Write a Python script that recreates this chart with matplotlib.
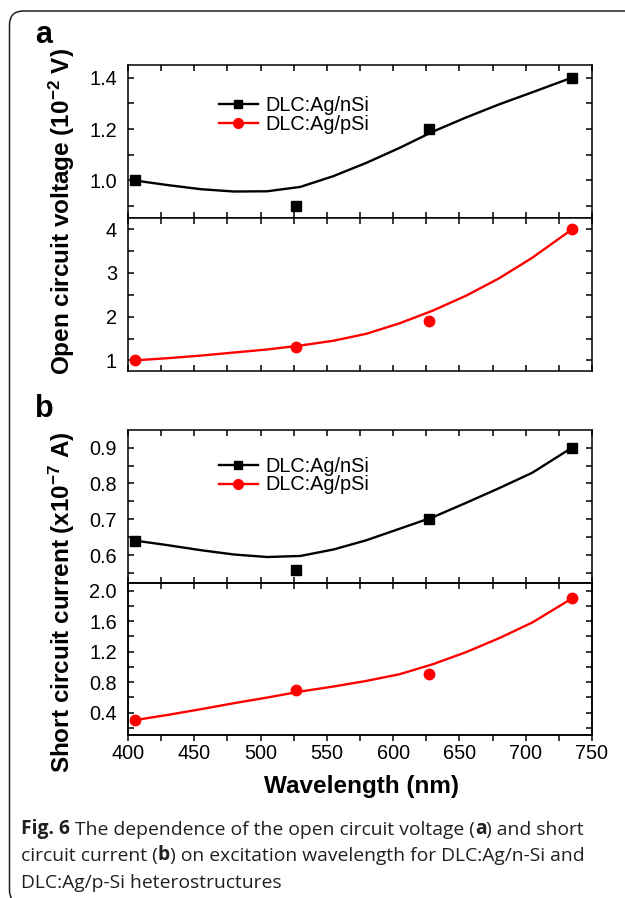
#Recreate Fig. 6: open circuit voltage and short circuit current vs wavelength
import matplotlib
matplotlib.use('Agg')
import matplotlib.pyplot as plt
from matplotlib.lines import Line2D
from matplotlib.patches import FancyBboxPatch
from matplotlib.transforms import IdentityTransform
from matplotlib.ticker import MultipleLocator

plt.rcParams['font.family'] = 'Liberation Sans'
plt.rcParams['mathtext.default'] = 'regular'

#Measured points
wavelength = [405, 527, 627, 735]
voc_nsi = [1.0, 0.9, 1.2, 1.4]
voc_psi = [1.0, 1.3, 1.9, 4.0]
isc_nsi = [0.64, 0.56, 0.70, 0.90]
isc_psi = [0.3, 0.7, 0.9, 1.9]

#Smooth trend lines
wl_fit = [405, 430, 455, 480, 505, 530, 555, 580, 605, 630, 655, 680, 705, 735]
voc_nsi_fit = [1.0, 0.982, 0.966, 0.957, 0.958, 0.975, 1.017, 1.069, 1.127, 1.19, 1.245, 1.296, 1.343, 1.4]
voc_psi_fit = [1.0, 1.05, 1.11, 1.18, 1.25, 1.34, 1.45, 1.61, 1.85, 2.14, 2.48, 2.88, 3.35, 4.0]
isc_nsi_fit = [0.641, 0.628, 0.614, 0.602, 0.595, 0.598, 0.616, 0.642, 0.674, 0.706, 0.746, 0.787, 0.830, 0.9]
isc_psi_fit = [0.3, 0.369, 0.444, 0.523, 0.597, 0.676, 0.742, 0.816, 0.904, 1.035, 1.193, 1.377, 1.583, 1.9]

series_labels = ['DLC:Ag/nSi', 'DLC:Ag/pSi']
x_ticks = [400, 450, 500, 550, 600, 650, 700, 750]

W, H = 625, 898
fig = plt.figure(figsize=(W / 100, H / 100), dpi=100)

def fx(x):
    return x / W

def fy(y):
    return 1 - y / H

def add_axes(top, bottom):
    return fig.add_axes([fx(128), fy(bottom), fx(592) - fx(128), fy(top) - fy(bottom)])

#Four stacked axes (two per panel)
ax_a1 = add_axes(65, 217.5)
ax_a2 = add_axes(217.5, 371)
ax_b1 = add_axes(430, 582.5)
ax_b2 = add_axes(582.5, 735)

black = '#000000'
red = '#ff0000'

panels = [
    (ax_a1, voc_nsi, voc_nsi_fit, black, 's', (0.856, 1.449), 0.2, 0.1),
    (ax_a2, voc_psi, voc_psi_fit, red, 'o', (0.757, 4.27), 1, 0.5),
    (ax_b1, isc_nsi, isc_nsi_fit, black, 's', (0.524, 0.949), 0.1, 0.05),
    (ax_b2, isc_psi, isc_psi_fit, red, 'o', (0.105, 2.108), 0.4, 0.2),
]

for ax, pts, fit, col, mk, ylim, major, minor in panels:
    ax.plot(wl_fit, fit, color=col, lw=1.7, zorder=2, solid_joinstyle='round')
    ms = 6.8 if mk == 's' else 7.5
    ax.plot(wavelength, pts, ls='none', marker=mk, ms=ms, color=col, zorder=3)
    ax.set_xlim(400, 750)
    ax.set_ylim(*ylim)
    ax.set_xticks(x_ticks)
    ax.xaxis.set_minor_locator(MultipleLocator(25))
    ax.yaxis.set_major_locator(MultipleLocator(major))
    ax.yaxis.set_minor_locator(MultipleLocator(minor))
    for s in ax.spines.values():
        s.set_linewidth(1.1)
    ax.tick_params(which='both', direction='in', top=True, right=True,
                   length=4, width=1.1, labelsize=14.3, labelbottom=False)
    ax.tick_params(axis='y', pad=8)

#Bottom axis of the last panel has outward ticks with labels,
#its top edge gets inward ticks from a twin axis
ax_b2.tick_params(axis='x', which='both', direction='out', top=False,
                  labelbottom=True, pad=2.5)
top_b2 = ax_b2.twiny()
top_b2.set_xlim(400, 750)
top_b2.set_xticks(x_ticks)
top_b2.xaxis.set_minor_locator(MultipleLocator(25))
top_b2.tick_params(which='both', direction='in', top=True, bottom=False,
                   length=4, width=1.1, labeltop=False, labelbottom=False)
for s in top_b2.spines.values():
    s.set_linewidth(1.1)

#Legends
handles = [Line2D([], [], color=black, lw=1.7, marker='s', ms=6),
           Line2D([], [], color=red, lw=1.7, marker='o', ms=7)]
for ax, yc in [(ax_a1, 114.7), (ax_b1, 475.5)]:
    ax.legend(handles, series_labels, loc='center left',
              bbox_to_anchor=(fx(219), fy(yc)), bbox_transform=fig.transFigure,
              frameon=False, borderpad=0, borderaxespad=0, handlelength=1.96,
              handletextpad=0.39, labelspacing=0, fontsize=14.3)

#Axis labels
fig.text(fx(62), fy(212), 'Open circuit voltage (10$^{-2}$ V)', rotation=90,
         ha='center', va='center', fontsize=17.5, weight='bold')
fig.text(fx(62), fy(602), 'Short circuit current (x10$^{-7}$ A)', rotation=90,
         ha='center', va='center', fontsize=17.5, weight='bold')
fig.text(fx(361), fy(787), 'Wavelength (nm)', ha='center', va='center',
         fontsize=17.5, weight='bold')

#Panel letters
fig.text(fx(35), fy(43), 'a', fontsize=22, weight='bold', va='baseline')
fig.text(fx(35), fy(417), 'b', fontsize=22, weight='bold', va='baseline')

#Caption with bold pieces
cap_color = '#231f20'
cap_lines = [
    (834, [('Fig. 6', 'bold'), (' The dependence of the open circuit voltage (', 'normal'),
           ('a', 'bold'), (') and short', 'normal')]),
    (861, [('circuit current (', 'normal'), ('b', 'bold'),
           (') on excitation wavelength for DLC:Ag/n-Si and', 'normal')]),
    (888, [('DLC:Ag/p-Si heterostructures', 'normal')]),
]
for yb, parts in cap_lines:
    t = fig.text(fx(21), fy(yb), parts[0][0], weight=parts[0][1], family='Open Sans',
                 fontsize=13.9, color=cap_color, va='baseline')
    for s, w in parts[1:]:
        t = ax_b2.annotate(s, xy=(1, 0), xycoords=t, va='bottom', weight=w,
                           family='Open Sans', fontsize=13.9, color=cap_color,
                           annotation_clip=False)

#Rounded frame around the figure
frame = FancyBboxPatch((9.5, -6), 640, 893, boxstyle='round,pad=0,rounding_size=14',
                       transform=IdentityTransform(), fill=False, lw=1.1,
                       edgecolor='#231f20')
fig.add_artist(frame)

fig.savefig('out.png', dpi=100)
